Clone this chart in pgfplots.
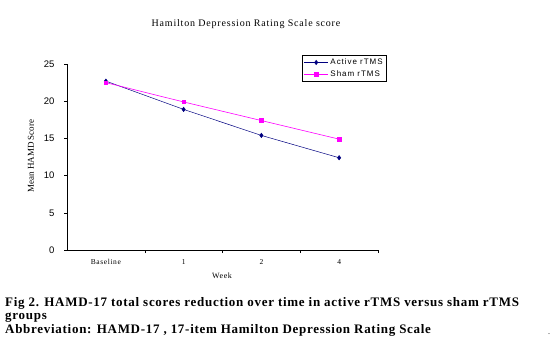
\documentclass[border=0pt]{standalone}
\usepackage{pgfplots}
\pgfplotsset{compat=1.18}
\usepackage{fontspec}
\setmainfont{Liberation Serif}
\newfontfamily\arial{Liberation Sans}
\newfontfamily\capfont[LetterSpace=5.5]{Liberation Serif}
\newfontfamily\spfont[LetterSpace=8]{Liberation Serif}
\newfontfamily\legfont[LetterSpace=12]{Liberation Sans}
\definecolor{navyc}{HTML}{000080}
\definecolor{magc}{HTML}{FF00FF}
\begin{document}
\begin{tikzpicture}[x=1pt,y=1pt]
\useasboundingbox (0,0) rectangle (553,-346);
\begin{axis}[
  at={(67pt,-250pt)}, anchor=south west,
  scale only axis, width=311pt, height=186pt,
  axis lines*=left,
  axis line style={black, line width=0.5pt},
  xmin=-0.5, xmax=3.5, ymin=0, ymax=25,
  xtick={0,1,2,3}, xticklabels={Baseline,1,2,4},
  major x tick style={draw=none},
  minor xtick={0.5,1.5,2.5,3.5},
  minor tick length=3pt,
  ytick={0,5,...,25},
  major tick length=3pt,
  tick align=outside,
  tick style={black, line width=0.5pt},
  xticklabel style={font=\spfont\fontsize{7.5}{9}\selectfont, yshift=-3pt},
  yticklabel style={font=\arial\fontsize{9.5}{11}\selectfont, xshift=-6pt},
  /pgf/number format/assume math mode=true,
  legend style={at={(rel axis cs:0.756,1.048)}, anchor=north west,
    font=\legfont\fontsize{8}{10}\selectfont, draw=black, line width=0.5pt,
    inner sep=1.5pt, row sep=0.5pt},
  legend cell align=left,
  legend image code/.code={\draw[mark repeat=2,mark phase=2] plot coordinates {(0pt,0pt) (12pt,0pt) (24pt,0pt)};},
]
\addplot[navyc, line width=0.5pt, mark=diamond*, mark size=2.2pt, mark options={fill=navyc}]
  coordinates {(0,22.7) (1,18.9) (2,15.4) (3,12.4)};
\addlegendentry{Active rTMS}
\addplot[magc, line width=0.6pt, mark=square*, mark size=1.8pt, mark options={fill=magc}]
  coordinates {(0,22.5) (1,19.9) (2,17.4) (3,14.9)};
\addlegendentry{Sham rTMS}
\end{axis}
\node at (246,-24) {\spfont\fontsize{10}{12}\selectfont Hamilton Depression Rating Scale score};
\node[rotate=90] at (31,-156) {\fontsize{9}{10}\selectfont Mean HAMD Score};
\node at (222,-276) {\spfont\fontsize{8}{10}\selectfont Week};
\node[anchor=base west, inner sep=0] at (5,-306) {\capfont\fontsize{13}{15}\selectfont\bfseries Fig 2. HAMD-17 total scores reduction over time in active rTMS versus sham rTMS};
\node[anchor=base west, inner sep=0] at (5,-319) {\capfont\fontsize{13}{15}\selectfont\bfseries groups};
\node[anchor=base west, inner sep=0] at (5,-333) {\capfont\fontsize{13}{15}\selectfont\bfseries Abbreviation: HAMD-17 , 17-item Hamilton Depression Rating Scale};
\node[anchor=base, inner sep=0] at (549,-334) {\fontsize{8}{10}\selectfont .};
\end{tikzpicture}
\end{document}
